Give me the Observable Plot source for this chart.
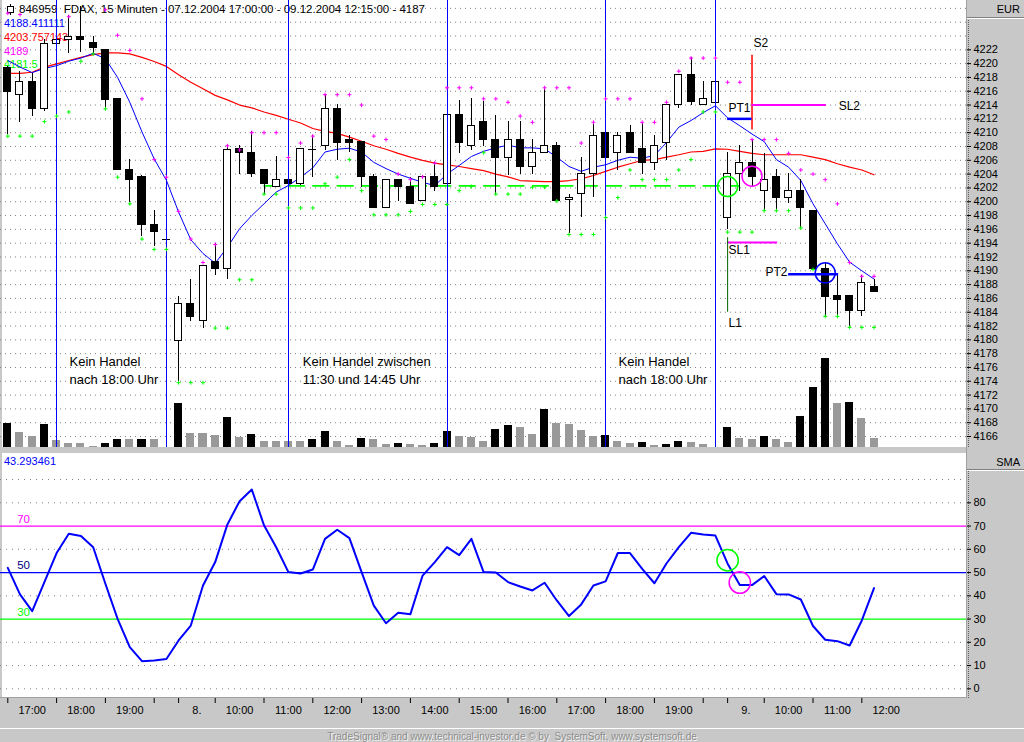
<!DOCTYPE html>
<html><head><meta charset="utf-8">
<script src="https://cdn.jsdelivr.net/npm/d3@7"></script>
<script src="https://cdn.jsdelivr.net/npm/@observablehq/plot@0.6"></script>
<style>
body{margin:0;background:#c8c8c8;}
#root{position:relative;width:1024px;height:742px;background:#c8c8c8;overflow:hidden;font-family:"Liberation Sans",Arial,sans-serif;}
.abs{position:absolute;}
.panel{background:#fff;}
.lbl{position:absolute;font-size:11px;white-space:pre;line-height:11px;}
.box{position:absolute;left:967px;width:57px;background:#c8c8c8;border-bottom:1px solid #808080;box-shadow:0 1px 0 #fff;font-size:11px;text-align:right;}
</style></head><body><div id="root">
<div class="abs panel" style="left:2px;top:0;width:964px;height:447px"></div>
<div class="abs panel" style="left:2px;top:453px;width:964px;height:245px"></div>
<div class="abs" style="left:966px;top:0;width:1px;height:698px;background:#a0a0a0"></div>
<div class="abs" style="left:968px;top:18px;width:0;height:429px;border-left:1px dotted #606060"></div>
<div class="abs" style="left:968px;top:470px;width:0;height:228px;border-left:1px dotted #606060"></div>
<div class="abs" style="left:0;top:697px;width:966px;height:1px;background:#a0a0a0"></div>
<div class="abs" style="left:0;top:728px;width:1024px;height:1px;background:#fff"></div>
<div class="box" style="top:0;height:17px;line-height:19px;"><span style="padding-right:4px">EUR</span></div>
<div class="box" style="top:453px;height:16px;line-height:18px;"><span style="padding-right:4px">SMA</span></div>
<div id="volwrap" class="abs" style="left:0;top:0"></div>
<svg class="abs" style="left:6px;top:4px" width="9" height="11"><line x1="4.5" y1="0" x2="4.5" y2="11" stroke="#000"/><rect x="1.5" y="2.5" width="6" height="6" fill="#fff" stroke="#000"/></svg>
<div class="lbl" style="left:19px;top:4px;font-size:11.5px;color:#000">846959  FDAX, 15 Minuten - 07.12.2004 17:00:00 - 09.12.2004 12:15:00 - 4187</div>
<div class="lbl" style="left:4px;top:18px;color:#0000ff">4188.411111</div>
<div class="lbl" style="left:4px;top:32px;color:#ff0000">4203.757143</div>
<div class="lbl" style="left:4px;top:46px;color:#ff00ff">4189</div>
<div class="lbl" style="left:4px;top:59px;color:#00ff00">4181.5</div>
<div id="pricewrap" class="abs" style="left:0;top:0"></div>
<div id="oscwrap" class="abs" style="left:0;top:453px"></div>
<div class="lbl" style="left:4px;top:456px;color:#0000ff">43.293461</div>
<div class="lbl" style="left:0;top:731px;width:1024px;text-align:center;font-size:10px;color:#8c8c8c;text-shadow:1px 1px 0 #f4f4f4">TradeSignal® and www.technical-investor.de © by  SystemSoft, www.systemsoft.de</div>
</div>
<script>
// ---- data (15-minute bars, FDAX 07.12.2004 17:00 – 09.12.2004 12:15) ----
const opens  = [4219.4,4215.5,4217.4,4213.5,4222.8,4223.35,4223.9,4223.0,4221.9,4214.9,4204.6,4203.6,4196.7,4194.6,4179.9,4185.2,4182.7,4191.2,4190.2,4207.6,4207.1,4204.6,4202.1,4203.2,4202.5,4207.6,4208.0,4213.4,4209.0,4208.6,4203.6,4199.1,4203.2,4202.2,4200.1,4203.6,4202.5,4212.5,4208.0,4211.6,4209.0,4206.4,4209.0,4205.0,4207.1,4208.1,4200.2,4201.1,4204.0,4210.0,4207.1,4210.0,4207.6,4205.6,4208.5,4214.0,4218.4,4214.0,4214.3,4197.7,4204.0,4205.6,4201.5,4203.6,4200.6,4201.5,4198.7,4190.2,4186.3,4186.3,4184.2,4187.7];
const highs  = [4219.6,4218.8,4218.5,4223.5,4224.5,4227.0,4228.2,4223.9,4222.0,4215.0,4206.1,4203.8,4198.7,4194.7,4186.3,4188.7,4190.8,4193.9,4208.1,4208.1,4210.1,4204.7,4206.5,4203.3,4207.7,4209.6,4215.5,4214.1,4209.6,4208.7,4204.0,4203.2,4203.2,4203.55,4203.6,4205.7,4216.5,4214.6,4214.9,4214.5,4212.5,4211.6,4211.6,4209.0,4216.6,4208.6,4201.1,4206.4,4211.5,4214.9,4210.0,4211.0,4211.5,4209.6,4214.0,4218.4,4220.9,4217.4,4217.5,4207.2,4208.1,4209.0,4207.0,4204.6,4204.1,4203.2,4198.8,4191.0,4189.6,4186.3,4189.3,4188.8];
const lows   = [4209.7,4211.5,4212.3,4213.0,4220.4,4221.4,4221.65,4221.4,4213.4,4204.5,4199.9,4194.9,4193.5,4194.5,4173.9,4182.7,4181.7,4189.3,4188.7,4204.0,4203.55,4201.1,4202.1,4202.4,4202.4,4203.55,4207.4,4206.0,4207.1,4202.1,4199.1,4199.1,4200.1,4199.6,4200.0,4201.5,4202.3,4207.0,4207.4,4208.0,4201.1,4203.8,4204.0,4204.0,4207.1,4200.1,4195.4,4197.7,4200.6,4205.5,4204.5,4207.0,4204.0,4204.5,4206.0,4213.5,4213.9,4214.0,4213.0,4196.0,4201.5,4202.2,4198.7,4198.7,4199.7,4196.1,4190.2,4183.4,4183.4,4181.9,4183.4,4187.0];
const closes = [4215.9,4217.4,4213.4,4222.9,4223.4,4223.9,4223.35,4222.3,4214.8,4204.6,4203.2,4196.6,4195.6,4194.6,4185.2,4183.3,4190.7,4190.2,4207.5,4207.0,4204.0,4202.5,4203.2,4202.5,4207.6,4207.6,4213.4,4208.5,4208.5,4203.55,4199.1,4203.2,4202.1,4199.6,4203.6,4202.1,4212.5,4208.5,4211.0,4208.9,4206.4,4209.0,4205.0,4207.1,4208.1,4200.1,4200.6,4204.0,4209.5,4206.4,4209.5,4207.0,4205.6,4208.1,4214.0,4218.4,4214.4,4214.9,4217.4,4204.0,4205.6,4203.55,4203.2,4200.6,4201.5,4199.1,4190.2,4186.2,4185.8,4184.2,4188.2,4187.0];
const volume = [24,14.7,10.7,23,6.7,4,4,1,4,8,7.8,8,7.8,0,44,14,14,12,30,10,13,6,6,6,6,8,16,6,2,9,8,3,4,3,2,4,16,11,10,6,18,22,20,13,38,24,23,17,11,12,6,4,5,2,3,6,5,3,0,20,9,8,11,8,5,31,60,89,44,45,29,9];
const fastMA = [4220.45,4219.5,4218.7,4219.3,4219.7,4220.35,4220.8,4221.5,4220.7,4218.0,4214.4,4210.1,4206.2,4203.1,4198.5,4194.5,4192.5,4191.1,4193.4,4196.1,4198.0,4199.7,4201.4,4202.35,4203.55,4204.9,4207.2,4207.6,4207.75,4207.2,4205.7,4204.8,4204.0,4203.4,4202.8,4202.35,4204.0,4205.25,4206.55,4207.3,4207.8,4208.2,4207.8,4207.8,4207.66,4206.45,4205.1,4204.4,4205.0,4205.35,4206.0,4206.45,4206.3,4206.7,4208.6,4210.8,4211.76,4212.9,4213.9,4212.15,4211.0,4209.8,4208.7,4206.1,4205.0,4203.07,4199.7,4196.8,4193.9,4191.25,4190.0,4188.8];
const slowMA = [4218.6,4218.6,4218.75,4219.5,4219.97,4220.45,4220.9,4221.3,4221.56,4221.56,4221.4,4220.9,4220.3,4219.6,4218.4,4217.3,4216.35,4215.4,4214.75,4214.0,4213.6,4213.0,4212.5,4211.95,4211.4,4210.6,4210.2,4209.9,4209.35,4208.76,4208.1,4207.6,4207.0,4206.45,4206.0,4205.6,4205.35,4205.1,4204.8,4204.5,4204.0,4203.6,4203.07,4202.97,4202.9,4202.9,4203.07,4203.3,4203.8,4204.4,4205.0,4205.5,4206.0,4206.1,4206.45,4206.8,4207.2,4207.3,4207.66,4207.6,4207.3,4207.0,4206.8,4206.8,4206.8,4206.8,4206.45,4206.1,4205.5,4205.0,4204.6,4203.9];
const upperMark = [4227.3,4227.1,null,null,null,4226.8,null,null,4227.8,4224.1,4221.9,4214.9,4206.1,4203.55,4198.6,4194.6,4191.2,4193.8,4208.1,4207.5,4210.0,4210.0,4210.0,4206.4,4208.5,4209.5,4215.5,4215.5,4215.5,4214.0,4209.5,4209.0,4204.0,4203.2,4203.6,4205.6,4216.5,4216.5,4216.5,4214.9,4214.9,4214.4,4212.4,4211.5,4216.5,4216.5,4216.5,4208.5,4211.5,4214.9,4214.9,4214.9,4211.5,4211.5,4214.4,4218.9,4220.8,4220.8,4220.8,4217.3,4217.3,4209.0,4209.0,4209.0,4207.0,4204.6,4204.0,4203.2,4199.7,4191.2,4189.2,4189.2];
const lowerMark = [4209.5,4209.5,4209.5,4211.6,4212.4,4213.0,4220.35,4221.4,4213.45,4203.55,4199.7,4194.6,4193.1,4193.1,4173.8,4173.8,4173.8,4181.7,4181.7,4188.7,4188.7,4201.1,4201.1,4199.1,4199.1,4199.1,4202.6,4203.55,4206.1,4201.6,4198.1,4198.1,4198.1,4198.6,4199.6,4199.6,4199.6,4201.6,4202.2,4207.1,4201.1,4201.1,4201.1,4202.1,4202.1,4200.1,4195.25,4195.25,4195.25,4197.7,4200.6,4204.6,4203.2,4203.2,4203.2,4204.6,4206.1,4213.0,4213.0,4195.6,4195.6,4195.6,4198.7,4198.7,4198.7,4196.2,4190.2,4183.4,4183.4,4181.8,4181.8,4181.8];
const oscillator = [52.0,40.6,33.4,45.9,58.4,66.7,65.7,60.9,45.2,30.1,17.9,11.9,12.2,12.8,20.8,27.2,44.4,54.5,70.7,80.7,85.7,70.3,60.9,50.2,49.6,51.3,64.5,68.4,64.8,50.2,35.8,28.2,32.7,32.1,48.7,54.5,60.9,57.5,64.5,50.2,50.0,45.9,44.0,42.3,45.6,38.0,31.3,36.3,44.4,46.2,58.4,58.4,51.6,45.4,54.0,60.9,67.1,66.4,65.9,53.8,44.6,44.6,48.5,40.7,40.6,38.4,27.0,21.1,20.5,18.6,29.4,43.3];
const sessionBars = [4, 13, 23, 36, 49, 58];
const timeTickBars = [0,4,8,12,14,17,21,25,29,33,37,41,45,49,53,57,59,62,66,70];
const timeTickLabels = ["17:00","18:00","19:00","","8.","10:00","11:00","12:00","13:00","14:00","15:00","16:00","17:00","18:00","19:00","","9.","10:00","11:00","12:00"];
const priceTicks = d3.range(4166, 4223, 2);
const priceGrid = d3.range(4166, 4229, 2);
const oscTicks = [0,10,20,30,40,50,60,70,80];
const oscGrid = [0,10,20,40,60,80,90];
const oscLevels = [70, 50, 30];
const levelColors = ["#ff00ff", "#0000ff", "#00ff00"];
const levelTextColors = ["#ff00ff", "#000080", "#00ff00"];

// ---- rows ----
const idx = d3.range(opens.length);
const candles = idx.map(i => ({i, o: opens[i], h: highs[i], l: lows[i], c: closes[i]}));
const volRows = idx.map(i => ({i, v: volume[i], up: i === 0 || volume[i] > volume[i - 1]}));
const timeLabelRows = timeTickBars.map((t, k) => ({label: timeTickLabels[k], pos: (t + (k + 1 < timeTickBars.length ? timeTickBars[k + 1] : t + 4)) / 2})).filter(d => d.label);

const X = {domain: [-0.598, 78.58], axis: null};
const PY = [4164.41, 4229.14];
const FONT = '"Liberation Sans", Arial, sans-serif';
const baseStyle = {background: "transparent", fontFamily: FONT, fontSize: "11px", overflow: "visible", color: "#000"};
const hw = 0.287;

// grid + volume layer (volume has its own scale)
const gridPlot = Plot.plot({
  width: 966, height: 447, marginLeft: 0, marginRight: 0, marginTop: 0, marginBottom: 0,
  style: baseStyle, x: X, y: {domain: PY, axis: null},
  marks: [Plot.ruleY(priceGrid, {stroke: "#808080", strokeDasharray: "1,4"})]
});
const volPlot = Plot.plot({
  width: 966, height: 447, marginLeft: 0, marginRight: 0, marginTop: 0, marginBottom: 0,
  style: baseStyle, x: X, y: {domain: [0, 447], axis: null},
  marks: [
    Plot.rect(volRows, {x1: d => d.i - 0.328, x2: d => d.i + 0.328, y1: 0, y2: "v", fill: d => d.up ? "#000" : "#999", shapeRendering: "crispEdges"})
  ]
});
volPlot.style.position = "absolute"; volPlot.style.left = "0px"; volPlot.style.top = "0px";
const vw = document.getElementById("volwrap");
vw.appendChild(gridPlot); vw.appendChild(volPlot);

const pricePlot = Plot.plot({
  width: 1024, height: 447, marginLeft: 0, marginRight: 58, marginTop: 0, marginBottom: 0,
  style: baseStyle,
  x: X,
  y: {domain: PY, axis: "right", ticks: priceTicks, tickFormat: d => String(d), tickSize: 4, tickPadding: 3, label: null},
  marks: [
    Plot.ruleY([4202.3], {x1: 21, x2: 60, stroke: "#00ff00", strokeWidth: 1.6, strokeDasharray: "17,7.4"}),
    Plot.line(idx, {x: i => i, y: i => slowMA[i], stroke: "#ff0000", strokeWidth: 1.2}),
    Plot.line(idx, {x: i => i, y: i => fastMA[i], stroke: "#0000ff", strokeWidth: 1}),
    Plot.ruleX(candles, {x: "i", y1: "l", y2: "h", stroke: "#000", shapeRendering: "crispEdges"}),
    Plot.rect(candles.filter(d => d.o !== d.c), {x1: d => d.i - hw, x2: d => d.i + hw, y1: "o", y2: "c", fill: d => d.c > d.o ? "#fff" : "#000", stroke: "#000", strokeWidth: 1, shapeRendering: "crispEdges"}),
    Plot.ruleY(candles.filter(d => d.o === d.c), {y: "c", x1: d => d.i - 0.33, x2: d => d.i + 0.33, stroke: "#000", shapeRendering: "crispEdges"}),
    Plot.ruleX(sessionBars, {stroke: "#0000ff", strokeWidth: 1, shapeRendering: "crispEdges"}),
    Plot.dot(idx.filter(i => upperMark[i] != null), {x: i => i, y: i => upperMark[i], symbol: "plus", r: 1.4, stroke: "#ff00ff", strokeWidth: 1}),
    Plot.dot(idx.filter(i => lowerMark[i] != null), {x: i => i, y: i => lowerMark[i], symbol: "plus", r: 1.4, stroke: "#00ff00", strokeWidth: 1}),
    // trade annotations
    Plot.ruleX([61], {y1: 4210.4, y2: 4221.2, stroke: "#ff0000", strokeWidth: 1.5}),
    Plot.ruleY([4214.0], {x1: 61, x2: 67.1, stroke: "#ff00ff", strokeWidth: 2}),
    Plot.ruleY([4212.0], {x1: 59, x2: 61, stroke: "#0000ff", strokeWidth: 2.5}),
    Plot.ruleY([4194.1], {x1: 59, x2: 63.1, stroke: "#ff00ff", strokeWidth: 2}),
    Plot.ruleX([59], {y1: 4184.0, y2: 4194.8, stroke: "#006000", strokeWidth: 1}),
    Plot.ruleY([4189.5], {x1: 64, x2: 68.1, stroke: "#0000ff", strokeWidth: 2.5}),
    Plot.dot([[59, 4202.2]], {x: d => d[0], y: d => d[1], r: 10, stroke: "#00ff00", fill: "none"}),
    Plot.dot([[61, 4203.7]], {x: d => d[0], y: d => d[1], r: 10, stroke: "#ff00ff", fill: "none"}),
    Plot.dot([[67, 4189.7]], {x: d => d[0], y: d => d[1], r: 10, stroke: "#0000ff", fill: "none"}),
    Plot.text([
      {t: "S2", x: 61.12, y: 4222.9}, {t: "PT1", x: 59.07, y: 4213.6}, {t: "SL2", x: 68.1, y: 4213.8},
      {t: "SL1", x: 59.07, y: 4193.0}, {t: "PT2", x: 62.1, y: 4189.75}, {t: "L1", x: 59.07, y: 4182.4}
    ], {x: "x", y: "y", text: "t", textAnchor: "start", fontSize: 12, fill: "#000"}),
    Plot.text([
      {t: "Kein Handel", x: 5.06, y: 4176.86}, {t: "nach 18:00 Uhr", x: 5.06, y: 4174.25},
      {t: "Kein Handel zwischen", x: 24.18, y: 4176.86}, {t: "11:30 und 14:45 Uhr", x: 24.18, y: 4174.25},
      {t: "Kein Handel", x: 50.06, y: 4176.86}, {t: "nach 18:00 Uhr", x: 50.06, y: 4174.25}
    ], {x: "x", y: "y", text: "t", textAnchor: "start", fontSize: 13, fill: "#000"})
  ]
});
document.getElementById("pricewrap").appendChild(pricePlot);

const oscPlot = Plot.plot({
  width: 1024, height: 275, marginLeft: 0, marginRight: 58, marginTop: 0, marginBottom: 30,
  style: baseStyle,
  x: {domain: X.domain, ticks: timeTickBars, tickFormat: () => "", tickSize: 5, label: null},
  y: {domain: [-4.17, 101.2], axis: "right", ticks: oscTicks, tickFormat: d => String(d), tickSize: 4, tickPadding: 3, label: null},
  marks: [
    Plot.ruleY(oscGrid, {stroke: "#808080", strokeDasharray: "1,5"}),
    Plot.ruleY(oscLevels, {stroke: (d, k) => levelColors[k], strokeWidth: 1.2}),
    Plot.text(oscLevels, {x: 0.77, y: d => d, dy: -7, text: d => String(d), textAnchor: "start", fill: (d, k) => levelTextColors[k], fontSize: 11.5}),
    Plot.line(idx, {x: i => i, y: i => oscillator[i], stroke: "#0000ff", strokeWidth: 2}),
    Plot.dot([[59, 55.3]], {x: d => d[0], y: d => d[1], r: 10.7, stroke: "#00ff00", fill: "none"}),
    Plot.dot([[60, 45.7]], {x: d => d[0], y: d => d[1], r: 10.7, stroke: "#ff00ff", fill: "none"}),
    Plot.text(timeLabelRows, {x: "pos", frameAnchor: "bottom", dy: 15, text: "label", fontSize: 11, fill: "#000"})
  ]
});
document.getElementById("oscwrap").appendChild(oscPlot);
</script>
</body></html>
